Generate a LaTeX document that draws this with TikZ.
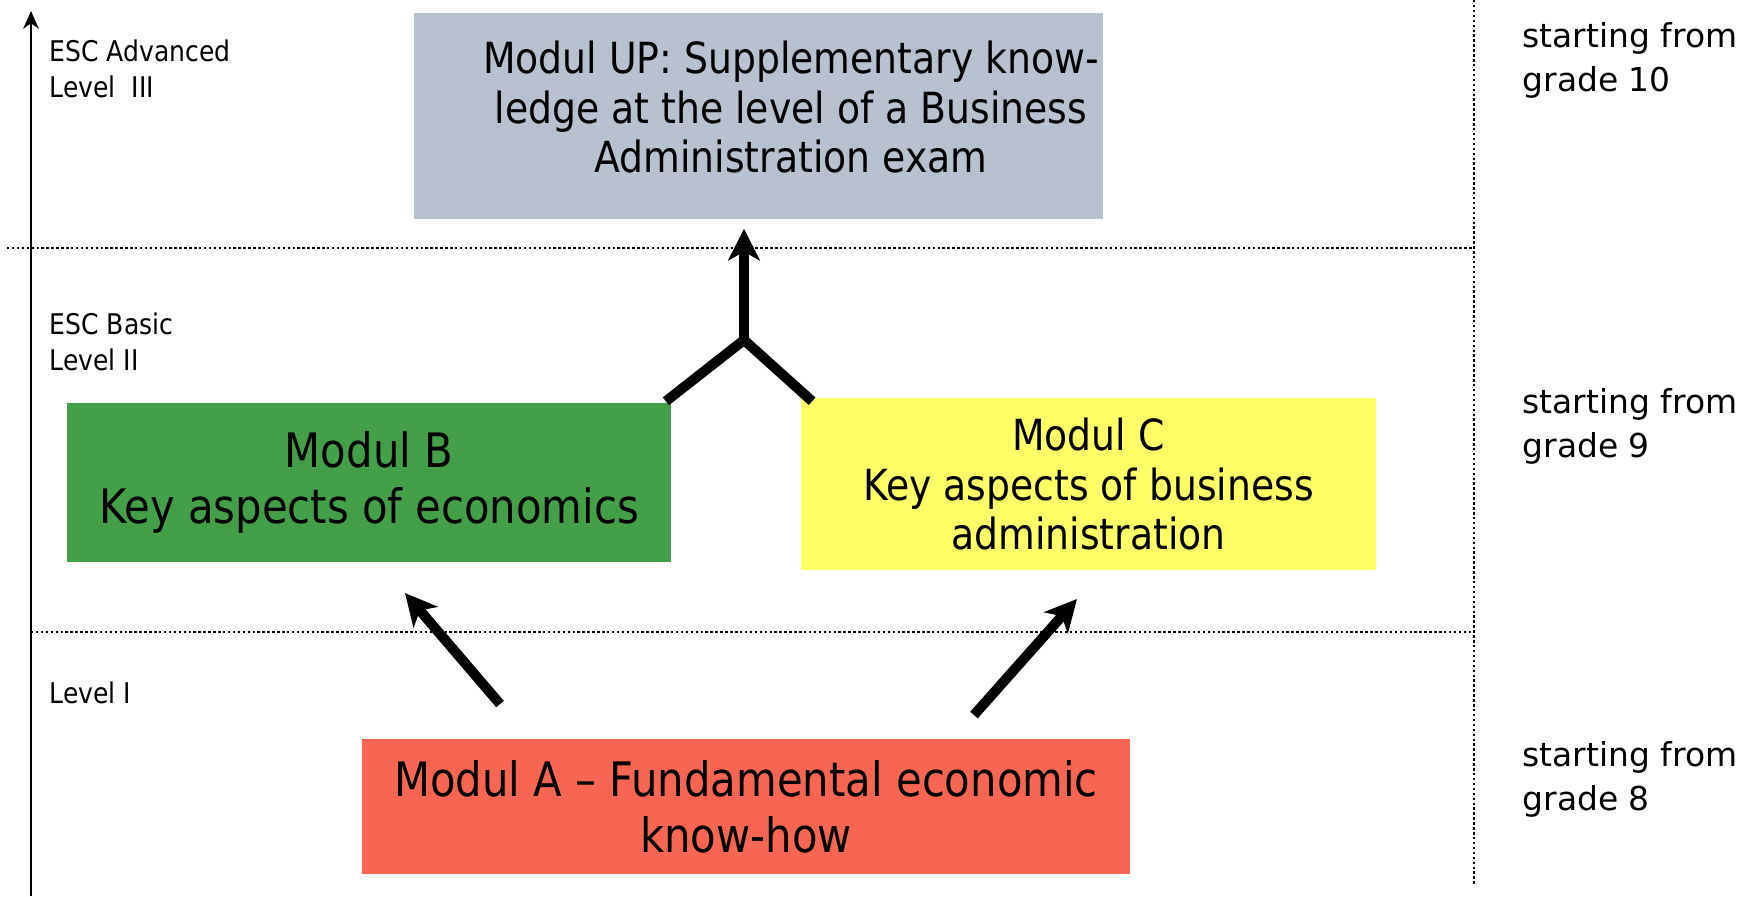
\documentclass[tikz,border=0pt]{standalone}
\usepackage{fontspec}
\setmainfont{DejaVu Sans}
\newfontfamily\tah{DejaVu Sans}[FakeStretch=0.88]
\usetikzlibrary{arrows.meta,calc}
\definecolor{upgrey}{RGB}{183,193,207}
\definecolor{bgreen}{RGB}{67,160,72}
\definecolor{cyellow}{RGB}{255,255,102}
\definecolor{ared}{RGB}{247,102,82}
\begin{document}
\begin{tikzpicture}[x=0.01cm,y=-0.01cm,
  modbox/.style={inner sep=0pt, align=center},
  bigfont/.style={font=\tah\fontsize{13.5}{15.9}\selectfont},
  midfont/.style={font=\tah\fontsize{12.2}{14.2}\selectfont},
  guide/.style={line width=0.6pt, dash pattern=on 0.7pt off 0.7pt},
  flow/.style={line width=2.85pt, -{Stealth[length=9pt,width=9pt,inset=2.5pt]}},
  branch/.style={line width=2.85pt},
  axis/.style={line width=0.6pt, -{Stealth[length=5pt,width=4.4pt,inset=1.5pt]}},
  side/.style={anchor=base west, align=left, inner sep=0pt, font=\tah\fontsize{8.1}{10.2}\selectfont},
  grade/.style={anchor=base west, align=left, inner sep=0pt, font=\fontsize{9.36}{12.5}\selectfont}]
\useasboundingbox (0,0) rectangle (1746,896);

% guide lines
\draw[guide] (7,248) -- (1474,248);
\draw[guide] (31,632) -- (1474,632);
\draw[guide] (1474,0) -- (1474,885);

% axis
\coordinate (ax0) at (31,896);
\coordinate (ax1) at (31,11);
\draw[axis] (ax0) -- (ax1);

% boxes
\node (up) [fill=upgrey, minimum width=6.89cm, minimum height=2.06cm, inner sep=0pt] at (758.5,116) {};
\node (uptext) [modbox, midfont] at (791,107) {Modul UP: Supplementary know-\\ledge at the level of a Business\\Administration exam};
\node (B) [modbox, bigfont, fill=bgreen, minimum width=6.04cm, minimum height=1.59cm] at (369,482.5) {Modul B\\Key aspects of economics};
\node (C) [modbox, midfont, fill=cyellow, minimum width=5.75cm, minimum height=1.72cm] at (1088.5,484) {Modul C\\Key aspects of business\\administration};
\node (A) [modbox, bigfont, fill=ared, minimum width=7.68cm, minimum height=1.35cm] at (746,806.5) {Modul A – Fundamental economic\\know-how};

% connectors
\coordinate (j) at (744,340);
\draw[branch] ($(B.north east)+(-6,-1)$) -- (j) -- ($(C.north west)+(12,4)$);
\draw[flow] (j) -- ($(up.south)+(-14.5,9)$);
\coordinate (la0) at (500,704);
\coordinate (la1) at (405,593);
\draw[flow] (la0) -- (la1);
\coordinate (ra0) at (974,715);
\coordinate (ra1) at (1077,599);
\draw[flow] (ra0) -- (ra1);

% level labels (anchor at the baseline of the last line)
\node (l3) [side] at (49,97) {ESC Advanced\\Level~~III};
\node (l2) [side] at (49,370) {ESC Basic\\Level II};
\node (l1) [side] at (49,703) {Level I};

% grade labels
\node (g10) [grade] at (1522,91) {starting from\\grade 10};
\node (g9) [grade] at (1522,457) {starting from\\grade 9};
\node (g8) [grade] at (1522,810) {starting from\\grade 8};
\end{tikzpicture}
\end{document}
